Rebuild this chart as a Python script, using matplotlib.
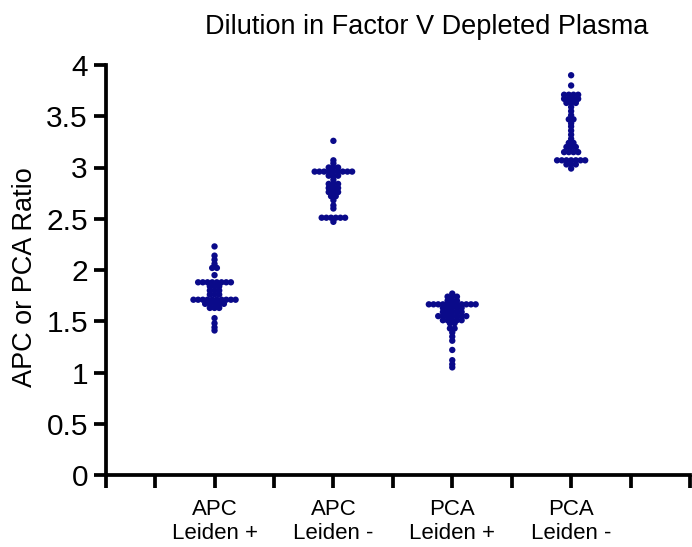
import numpy as np
import matplotlib
matplotlib.use("Agg")
import matplotlib.pyplot as plt

plt.rcParams['font.family'] = ['Liberation Sans', 'DejaVu Sans']

# ---- data ----
categories = ["APC\nLeiden +", "APC\nLeiden -", "PCA\nLeiden +", "PCA\nLeiden -"]

apc_leiden_pos = ([2.23, 2.14, 2.10, 2.06] + [2.02] * 2 + [1.95] + [1.88] * 8 + [1.84] * 3
                  + [1.80] * 3 + [1.76] * 3 + [1.71] * 10 + [1.67] * 5 + [1.63] * 3
                  + [1.53, 1.48, 1.44, 1.41])
apc_leiden_neg = ([3.26, 3.07, 3.04] + [3.00] * 3 + [2.96] * 9 + [2.92] * 3 + [2.88]
                  + [2.84] * 3 + [2.80] * 3 + [2.76] * 3 + [2.72] * 2 + [2.68, 2.63, 2.60]
                  + [2.51] * 6 + [2.47])
pca_leiden_pos = ([1.77] + [1.74] * 3 + [1.70] * 3 + [1.665] * 11 + [1.63] * 5 + [1.59] * 5
                  + [1.55] * 7 + [1.51] * 5 + [1.48] * 2 + [1.43] * 2
                  + [1.39, 1.35, 1.31, 1.22, 1.12, 1.08, 1.05])
pca_leiden_neg = ([3.90, 3.80] + [3.71] * 4 + [3.67] * 4 + [3.63] * 3 + [3.59, 3.55, 3.51]
                  + [3.47] * 2 + [3.43, 3.40, 3.36, 3.32, 3.28] + [3.24] * 2 + [3.20] * 3
                  + [3.15] * 4 + [3.07] * 7 + [3.03] * 3 + [2.99])

groups = [apc_leiden_pos, apc_leiden_neg, pca_leiden_pos, pca_leiden_neg]

yticks = [0, 0.5, 1, 1.5, 2, 2.5, 3, 3.5, 4]
ytick_labels = ["0", "0.5", "1", "1.5", "2", "2.5", "3", "3.5", "4"]

title = "Dilution in Factor V Depleted Plasma"
ylabel = "APC or PCA Ratio"

dot_color = "#0a0a8a"


def swarm(values, center, step):
    u, counts = np.unique(np.asarray(values), return_counts=True)
    xs, ys = [], []
    for v, n in zip(u, counts):
        offs = (np.arange(n) - (n - 1) / 2.0) * step
        xs.extend(center + offs)
        ys.extend([v] * n)
    return np.array(xs), np.array(ys)


W, H = 692, 547
fig = plt.figure(figsize=(W / 100, H / 100), dpi=100)
ax = fig.add_axes([106 / W, 1 - 475 / H, (690 - 106) / W, (475 - 65) / H])

for i, vals in enumerate(groups):
    xs, ys = swarm(vals, i + 1, 0.0394)
    ax.scatter(xs, ys, s=21, color=dot_color, edgecolors='none', zorder=3, clip_on=False)

xmin, xmax = 0.087, 5.0
ax.set_xlim(xmin, xmax)
ax.set_ylim(0, 4)

for s in ("top", "right"):
    ax.spines[s].set_visible(False)
for s in ("left", "bottom"):
    ax.spines[s].set_linewidth(2.7)
    ax.spines[s].set_color("black")

ax.set_yticks(yticks)
ax.set_yticklabels(ytick_labels, fontsize=21.5)
ax.tick_params(axis='y', length=9, width=2.7, pad=4, colors='black')

ax.set_xticks([1, 2, 3, 4])
ax.set_xticklabels(categories, fontsize=16, linespacing=1.22)
ax.set_xticks([xmin, 0.5, 1.5, 2.5, 3.5, 4.5, 5.0], minor=True)
ax.tick_params(axis='x', which='both', length=9, width=2.7, pad=8, colors='black')

fig.text(427 / W, 1 - 27 / H, title, fontsize=19.5, ha='center', va='center')
fig.text(25 / W, 1 - 277 / H, ylabel, fontsize=19.5, ha='center', va='center', rotation=90)

fig.savefig("out.png", dpi=100)
